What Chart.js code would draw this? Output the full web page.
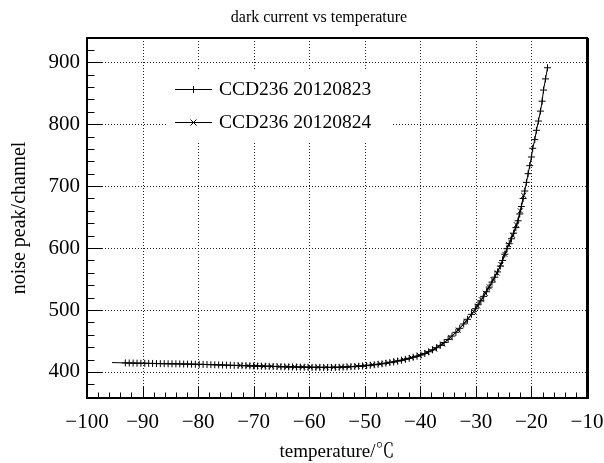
<!DOCTYPE html>
<html>
<head>
<meta charset="utf-8">
<script src="https://cdn.jsdelivr.net/npm/chart.js@4.4.1/dist/chart.umd.min.js"></script>
<style>
  body { margin: 0; background: #fff; }
  #wrap { width: 604px; height: 463px; }
</style>
</head>
<body>
<div id="wrap"><canvas id="c" width="604" height="463"></canvas></div>
<script>
// readings taken off the plot
const tempA = [-95.5, -93.1, -92.4, -91.7, -91.0, -90.3, -89.6, -88.9, -88.2, -87.5, -86.8, -86.1, -85.4, -84.7,
  -84.0, -83.3, -82.6, -81.9, -81.2, -80.5, -79.8, -79.1, -78.4, -77.7, -77.0, -76.3, -75.6, -74.9, -74.2,
  -73.5, -72.8, -72.1, -71.4, -70.7, -70.0, -69.3, -68.6, -67.9, -67.2, -66.5, -65.8, -65.1, -64.4, -63.7,
  -63.0, -62.3, -61.6, -60.9, -60.2, -59.5, -58.8, -58.1, -57.4, -56.7, -56.0, -55.3, -54.6, -53.9, -53.2,
  -52.5, -51.8, -51.1, -50.4, -49.7, -49.0, -48.3, -47.6, -46.9, -46.2, -45.5, -44.8, -44.1, -43.4, -42.7,
  -42.0, -41.3, -40.6, -39.9, -39.2, -38.5, -37.8, -37.1, -36.4, -35.7, -35.0, -34.3, -33.6, -32.9, -32.2,
  -31.5, -30.8, -30.1, -29.6, -29.1, -28.6, -28.1, -27.6, -27.1, -26.6, -26.1, -25.6, -25.2, -24.8, -24.4,
  -24.0, -23.6, -23.2, -22.8, -22.4, -22.11, -21.81, -21.5, -21.21, -20.9, -20.6, -20.31, -20.0, -19.77,
  -19.4, -19.1, -18.74, -18.38, -18.07, -17.83, -17.47, -17.11];
const noiseA = [415.2, 414.6, 414.5, 414.4, 414.2, 414.1, 414.0, 413.9, 413.8, 413.6, 413.5, 413.4, 413.3, 413.2,
  413.1, 413.0, 412.8, 412.7, 412.6, 412.5, 412.3, 412.2, 412.0, 411.8, 411.6, 411.4, 411.2, 411.0, 410.8,
  410.6, 410.5, 410.3, 410.1, 409.9, 409.7, 409.5, 409.4, 409.2, 409.1, 408.9, 408.7, 408.5, 408.4, 408.2,
  408.1, 408.0, 407.8, 407.7, 407.6, 407.5, 407.4, 407.4, 407.3, 407.3, 407.3, 407.4, 407.6, 407.8, 408.1,
  408.5, 408.9, 409.3, 409.7, 410.2, 410.9, 411.6, 412.4, 413.2, 414.1, 415.1, 416.2, 417.5, 418.9, 420.4,
  422.0, 423.7, 425.4, 427.3, 429.8, 432.6, 435.8, 439.2, 443.0, 447.5, 452.5, 458.0, 464.0, 470.5, 477.5,
  485.0, 493.0, 502.0, 508.5, 515.0, 522.0, 529.5, 537.0, 545.0, 553.0, 561.5, 571.0, 580.0, 590.0, 599.0,
  607.0, 615.0, 624.0, 633.0, 644.0, 655.0, 667.0, 680.0, 692.0, 706.0, 720.0, 733.0, 747.0, 761.0,
  775.0, 790.0, 805.0, 821.0, 837.0, 855.0, 873.0, 891.0];

const tempB = [-72.4, -71.0, -69.6, -68.2, -66.8, -65.4, -64.0, -62.6, -61.2, -59.8, -58.4, -57.0, -55.6, -54.2,
  -52.8, -51.4, -50.0, -48.6, -47.2, -45.8, -44.4, -43.0, -41.6, -40.2, -38.8, -37.4, -36.0, -34.6, -33.2,
  -31.8, -30.4, -29.7, -29.0, -28.3, -27.6, -26.9, -26.2, -25.5, -24.8, -24.1, -23.4, -22.7, -22.0, -21.4];
const noiseB = [410.6, 410.2, 409.8, 409.5, 409.2, 408.8, 408.5, 408.3, 408.0, 407.8, 407.6, 407.6, 407.7, 408.0,
  408.6, 409.4, 410.3, 411.6, 413.1, 415.0, 417.3, 420.0, 423.3, 427.0, 431.4, 437.0, 445.0, 455.5, 467.5,
  481.5, 497.5, 506.5, 516.5, 527.0, 537.5, 549.0, 560.0, 573.5, 590.0, 605.5, 620.5, 637.5, 660.0, 685.0];

const seriesNames = ["CCD236 20120823", "CCD236 20120824"];
const xTicks = [-100, -90, -80, -70, -60, -50, -40, -30, -20, -10];
const yTicks = [400, 500, 600, 700, 800, 900];

const serif = "'Liberation Serif', 'Times New Roman', 'Noto Serif CJK SC', 'Noto Sans CJK SC', serif";

function crossMark(ctx, x, y, r, rot) {
  ctx.beginPath();
  if (rot) {
    const d = r * 0.75;
    ctx.moveTo(x - d, y - d); ctx.lineTo(x + d, y + d);
    ctx.moveTo(x - d, y + d); ctx.lineTo(x + d, y - d);
  } else {
    ctx.moveTo(x - r, y); ctx.lineTo(x + r, y);
    ctx.moveTo(x, y - r); ctx.lineTo(x, y + r);
  }
  ctx.stroke();
}

const rootFrame = {
  id: 'rootFrame',
  beforeDatasetsDraw(chart) {
    const { ctx, chartArea: a, scales: { x, y } } = chart;
    ctx.save();
    ctx.strokeStyle = '#222';
    ctx.lineWidth = 1;
    ctx.setLineDash([1, 2]);
    ctx.beginPath();
    xTicks.forEach(v => {
      const px = Math.round(x.getPixelForValue(v)) + 0.5;
      if (px < a.left + 2 || px > a.right - 2) return;
      ctx.moveTo(px, a.top); ctx.lineTo(px, a.bottom);
    });
    yTicks.forEach(v => {
      const py = Math.round(y.getPixelForValue(v)) + 0.5;
      ctx.moveTo(a.left, py); ctx.lineTo(a.right, py);
    });
    ctx.stroke();
    ctx.setLineDash([]);
    // legend background hides grid
    ctx.fillStyle = '#fff';
    ctx.fillRect(166, 71, 226, 70);
    ctx.restore();
  },
  afterDatasetsDraw(chart) {
    const { ctx, chartArea: a, scales: { x, y } } = chart;
    ctx.save();
    ctx.strokeStyle = '#000';
    ctx.lineWidth = 1;
    // inward ticks, bottom axis
    ctx.beginPath();
    for (let v = -100; v <= -10; v += 2) {
      const px = Math.round(x.getPixelForValue(v)) + 0.5;
      const len = (v % 10 === 0) ? 11 : 5.5;
      ctx.moveTo(px, a.bottom); ctx.lineTo(px, a.bottom - len);
    }
    // inward ticks, left axis
    for (let v = 360; v <= 939; v += 20) {
      const py = Math.round(y.getPixelForValue(v)) + 0.5;
      const len = (v % 100 === 0) ? 15 : 7.5;
      ctx.moveTo(a.left, py); ctx.lineTo(a.left + len, py);
    }
    ctx.stroke();
    // frame
    ctx.lineWidth = 2;
    ctx.strokeRect(a.left, a.top, a.right - a.left, a.bottom - a.top);
    ctx.lineWidth = 1;
    ctx.beginPath();
    ctx.moveTo(a.right + 1.5, a.top); ctx.lineTo(a.right + 1.5, a.bottom + 1);
    ctx.stroke();

    // legend
    ctx.fillStyle = '#000';
    ctx.font = "19.5px " + serif;
    ctx.textBaseline = 'middle';
    ctx.textAlign = 'left';
    const rows = [89, 122];
    rows.forEach((ry, i) => {
      ctx.beginPath();
      ctx.moveTo(175, ry + 0.5); ctx.lineTo(212, ry + 0.5);
      ctx.stroke();
      crossMark(ctx, 193.5, ry + 0.5, i === 0 ? 3.5 : 4, i === 1);
      ctx.fillText(seriesNames[i], 219, ry + 1);
    });

    // title
    ctx.font = "16px " + serif;
    ctx.textAlign = 'center';
    ctx.fillText("dark current vs temperature", 319, 18);
    ctx.restore();
  }
};

new Chart(document.getElementById('c'), {
  type: 'line',
  data: {
    datasets: [
      {
        label: seriesNames[0],
        data: tempA.map((t, i) => ({ x: t, y: noiseA[i] })),
        borderColor: '#000',
        borderWidth: 1,
        pointStyle: 'cross',
        pointRadius: ctx => ctx.dataIndex === 0 ? 0 : 3.5,
        pointBorderColor: '#000',
        pointBorderWidth: 1,
        fill: false,
        tension: 0
      },
      {
        label: seriesNames[1],
        data: tempB.map((t, i) => ({ x: t, y: noiseB[i] })),
        borderColor: '#000',
        borderWidth: 1,
        pointStyle: 'crossRot',
        pointRadius: 3.5,
        pointBorderColor: '#000',
        pointBorderWidth: 1,
        fill: false,
        tension: 0
      }
    ]
  },
  options: {
    responsive: false,
    animation: false,
    devicePixelRatio: 1,
    layout: { padding: { left: 0, top: 38, right: 17, bottom: 0 } },
    plugins: {
      legend: { display: false },
      tooltip: { enabled: false }
    },
    scales: {
      x: {
        type: 'linear',
        min: -100,
        max: -10,
        grid: { display: false, drawTicks: false },
        border: { display: false },
        afterBuildTicks: s => { s.ticks = xTicks.map(v => ({ value: v })); },
        afterFit: s => { s.height = 65; s.paddingLeft = 0; s.paddingRight = 0; },
        ticks: {
          color: '#000',
          font: { family: serif, size: 21 },
          padding: 12,
          maxRotation: 0,
          callback: v => String(v).replace('-', '\u2212')
        },
        title: {
          display: true,
          text: 'temperature/\u2103',
          color: '#000',
          font: { family: serif, size: 19 },
          padding: { top: 0, bottom: 0 }
        }
      },
      y: {
        type: 'linear',
        min: 358,
        max: 939,
        grid: { display: false, drawTicks: false },
        border: { display: false },
        afterBuildTicks: s => { s.ticks = yTicks.map(v => ({ value: v })); },
        afterFit: s => { s.width = 87; },
        ticks: {
          color: '#000',
          font: { family: serif, size: 21 },
          padding: 7
        },
        title: {
          display: true,
          text: 'noise peak/channel',
          color: '#000',
          font: { family: serif, size: 20 },
          padding: { top: 8, bottom: 0 }
        }
      }
    }
  },
  plugins: [rootFrame]
});
</script>
</body>
</html>
